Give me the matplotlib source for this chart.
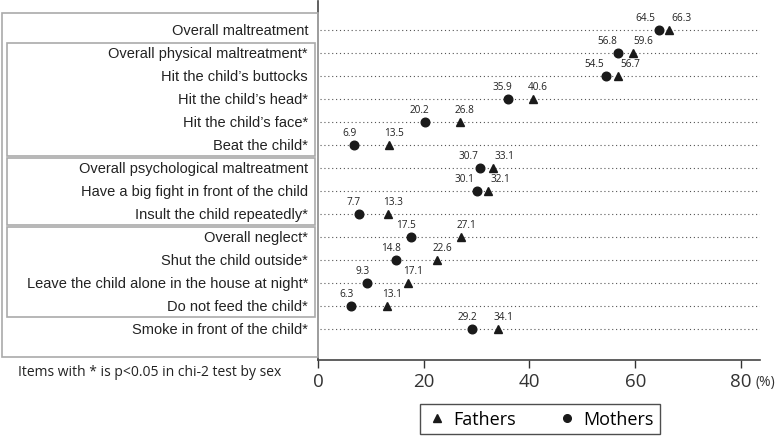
import matplotlib.pyplot as plt
from matplotlib.patches import Rectangle

items = [
    "Overall maltreatment",
    "Overall physical maltreatment*",
    "Hit the child\u2019s buttocks",
    "Hit the child\u2019s head*",
    "Hit the child\u2019s face*",
    "Beat the child*",
    "Overall psychological maltreatment",
    "Have a big fight in front of the child",
    "Insult the child repeatedly*",
    "Overall neglect*",
    "Shut the child outside*",
    "Leave the child alone in the house at night*",
    "Do not feed the child*",
    "Smoke in front of the child*",
]
fathers = [66.3, 59.6, 56.7, 40.6, 26.8, 13.5, 33.1, 32.1, 13.3, 27.1, 22.6, 17.1, 13.1, 34.1]
mothers = [64.5, 56.8, 54.5, 35.9, 20.2, 6.9, 30.7, 30.1, 7.7, 17.5, 14.8, 9.3, 6.3, 29.2]

# groups of rows that get a grey box round their labels (first, last row)
groups = [(1, 5), (6, 8), (9, 12)]

W, H = 780, 439
fig = plt.figure(figsize=(W / 100, H / 100), dpi=100)
ax = fig.add_axes([318 / W, 1 - 361 / H, (760 - 318) / W, (361 - 2) / H])

n = len(items)
ys = list(range(n))
row_px = (330 - 31) / (n - 1)
ax.set_ylim(n - 1 + (361 - 330) / row_px, -(31 - 2) / row_px)
ax.set_xlim(0, 83.6)

dark = "#1a1a1a"
ax.hlines(ys, 0.3, 83.6, colors="#555555", linestyles=(0, (1, 2.5)), linewidth=0.8)
ax.plot(fathers, ys, linestyle="none", marker="^", color=dark, markersize=6.2)
ax.plot(mothers, ys, linestyle="none", marker="o", color=dark, markersize=6.2)

px_per_unit = (741 - 318) / 80
for y, f, m in zip(ys, fathers, mothers):
    gap = (f - m) * px_per_unit
    sep = max(gap + 10, 36)
    off = (sep - gap) / 2 * 0.72  # px to points
    ax.annotate(f"{m:.1f}", (m, y), xytext=(-off, 5), textcoords="offset points",
                ha="center", va="bottom", fontsize=7.2, family="Open Sans", color="#222222")
    ax.annotate(f"{f:.1f}", (f, y), xytext=(off, 5), textcoords="offset points",
                ha="center", va="bottom", fontsize=7.2, family="Open Sans", color="#222222")

ax.set_yticks([])
ax.set_xticks([0, 20, 40, 60, 80])
ax.tick_params(axis="x", labelsize=13.5, length=6, width=1, colors="#333333", pad=3)
for lbl in ax.get_xticklabels():
    lbl.set_family("Open Sans")
for s in ["top", "right"]:
    ax.spines[s].set_visible(False)
ax.spines["left"].set_color("#444444")
ax.spines["bottom"].set_color("#444444")
ax.spines["left"].set_linewidth(1.2)
ax.spines["bottom"].set_linewidth(1.2)

fig.text(755 / W, 1 - 383 / H, "(%)", fontsize=10, family="Open Sans", color="#333333",
         ha="left", va="center")


def row_fig_y(i):
    return 1 - (31 + i * row_px) / H


for i, name in enumerate(items):
    fig.text(308 / W, row_fig_y(i), name, ha="right", va="center",
             fontsize=10.5, family="Liberation Sans", color="#222222")

# outer box and group boxes
fig.patches.append(Rectangle((2 / W, 1 - 358 / H), (318 - 2) / W, (358 - 14) / H,
                             transform=fig.transFigure, fill=False, edgecolor="#aaaaaa", lw=1.2))
for a, b in groups:
    top = 31 + a * row_px - row_px / 2 + 1
    bot = 31 + b * row_px + row_px / 2 - 1
    fig.patches.append(Rectangle((7 / W, 1 - bot / H), (315 - 7) / W, (bot - top) / H,
                                 transform=fig.transFigure, fill=False, edgecolor="#aaaaaa", lw=1.2))

fig.text(18 / W, 1 - 372 / H, "Items with * is p<0.05 in chi-2 test by sex",
         fontsize=10, family="Open Sans", color="#222222", ha="left", va="center")

h1, = ax.plot([], [], linestyle="none", marker="^", color=dark, markersize=5.5, label="Fathers")
h2, = ax.plot([], [], linestyle="none", marker="o", color=dark, markersize=5.5, label="Mothers")
leg = fig.legend(handles=[h1, h2], loc="center", bbox_to_anchor=(540 / W, 1 - 420 / H),
                 ncol=2, frameon=True, fancybox=False, edgecolor="#222222",
                 prop={"family": "Open Sans", "size": 13}, handletextpad=0.3,
                 columnspacing=2.2, borderpad=0.35, handlelength=1.2)
leg.get_frame().set_linewidth(1.0)

fig.savefig("out.png", dpi=100)
